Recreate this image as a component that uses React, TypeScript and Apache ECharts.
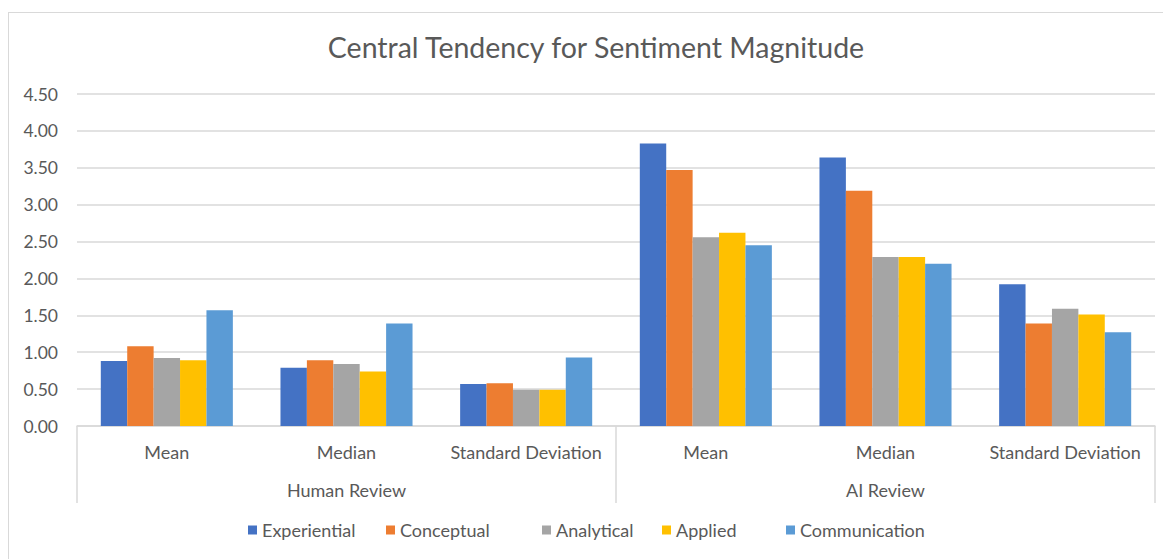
import React, { useEffect, useRef } from "react";
import * as echarts from "echarts";

const statCategories = ["Mean", "Median", "Standard Deviation", "Mean", "Median", "Standard Deviation"];
const reviewGroups = ["Human Review", "AI Review"];
const seriesNames = ["Experiential", "Conceptual", "Analytical", "Applied", "Communication"];
const colors = ["#4472C4", "#ED7D31", "#A5A5A5", "#FFC000", "#5B9BD5"];

const experiential = [0.88, 0.79, 0.57, 3.83, 3.64, 1.92];
const conceptual = [1.08, 0.89, 0.58, 3.47, 3.19, 1.39];
const analytical = [0.92, 0.84, 0.49, 2.56, 2.29, 1.59];
const applied = [0.89, 0.74, 0.49, 2.62, 2.29, 1.51];
const communication = [1.57, 1.39, 0.93, 2.45, 2.2, 1.27];

const seriesValues = [experiential, conceptual, analytical, applied, communication];
const yTicks = { min: 0, max: 4.5, interval: 0.5 };

const legendLeft = [240, 378, 534, 654, 778];

const FONT = "Lato, 'Open Sans', sans-serif";
const TXT = "#595959";
const LINE = "#d9d9d9";

export default function App() {
  const ref = useRef<HTMLDivElement>(null);
  useEffect(() => {
    if (!ref.current) return;
    const chart = echarts.init(ref.current, undefined, { renderer: "svg" });
    chart.setOption({
      animation: false,
      textStyle: { fontFamily: FONT },
      title: {
        text: "Central Tendency for Sentiment Magnitude",
        left: 588,
        textAlign: "center",
        top: 24,
        padding: 0,
        textStyle: { fontFamily: FONT, fontSize: 28.5, fontWeight: "normal", color: TXT },
      },
      legend: seriesNames.map((n, i) => ({
        data: [n],
        left: legendLeft[i],
        top: 513,
        padding: 0,
        itemWidth: 9,
        itemHeight: 9,
        itemGap: 0,
        icon: "rect",
        textStyle: { fontFamily: FONT, fontSize: 18, color: TXT },
      })),
      grid: { left: 69, right: 16, top: 86, bottom: 133 },
      xAxis: [
        {
          type: "category",
          data: statCategories,
          position: "bottom",
          axisLine: { show: true, lineStyle: { color: LINE, width: 1.5 } },
          axisTick: { show: false },
          axisLabel: { fontFamily: FONT, fontSize: 18, color: TXT, margin: 17, interval: 0 },
        },
        {
          type: "category",
          data: reviewGroups,
          position: "bottom",
          axisLine: { show: false },
          axisTick: { show: true, length: 77, lineStyle: { color: LINE, width: 1.5 } },
          axisLabel: { fontFamily: FONT, fontSize: 18, color: TXT, margin: 55 },
        },
      ],
      yAxis: {
        type: "value",
        min: yTicks.min,
        max: yTicks.max,
        interval: yTicks.interval,
        axisLine: { show: false },
        axisTick: { show: false },
        splitLine: { lineStyle: { color: LINE, width: 1.5 } },
        axisLabel: {
          fontFamily: FONT,
          fontSize: 17.5,
          color: TXT,
          margin: 19,
          formatter: (v: number) => v.toFixed(2),
        },
      },
      series: seriesNames.map((n, i) => ({
        name: n,
        type: "bar",
        xAxisIndex: 0,
        data: seriesValues[i],
        barGap: "0%",
        barCategoryGap: "26.5%",
        itemStyle: { color: colors[i] },
      })),
    });
    return () => chart.dispose();
  }, []);
  return (
    <div style={{ position: "relative", width: 1163, height: 551, overflow: "hidden", background: "#fff" }}>
      <div
        style={{
          position: "absolute",
          left: 0,
          top: 4,
          width: 1300,
          height: 700,
          border: "1.5px solid #d9d9d9",
          pointerEvents: "none",
        }}
      />
      <div ref={ref} style={{ position: "absolute", left: 0, top: 0, width: 1163, height: 551 }} />
    </div>
  );
}
